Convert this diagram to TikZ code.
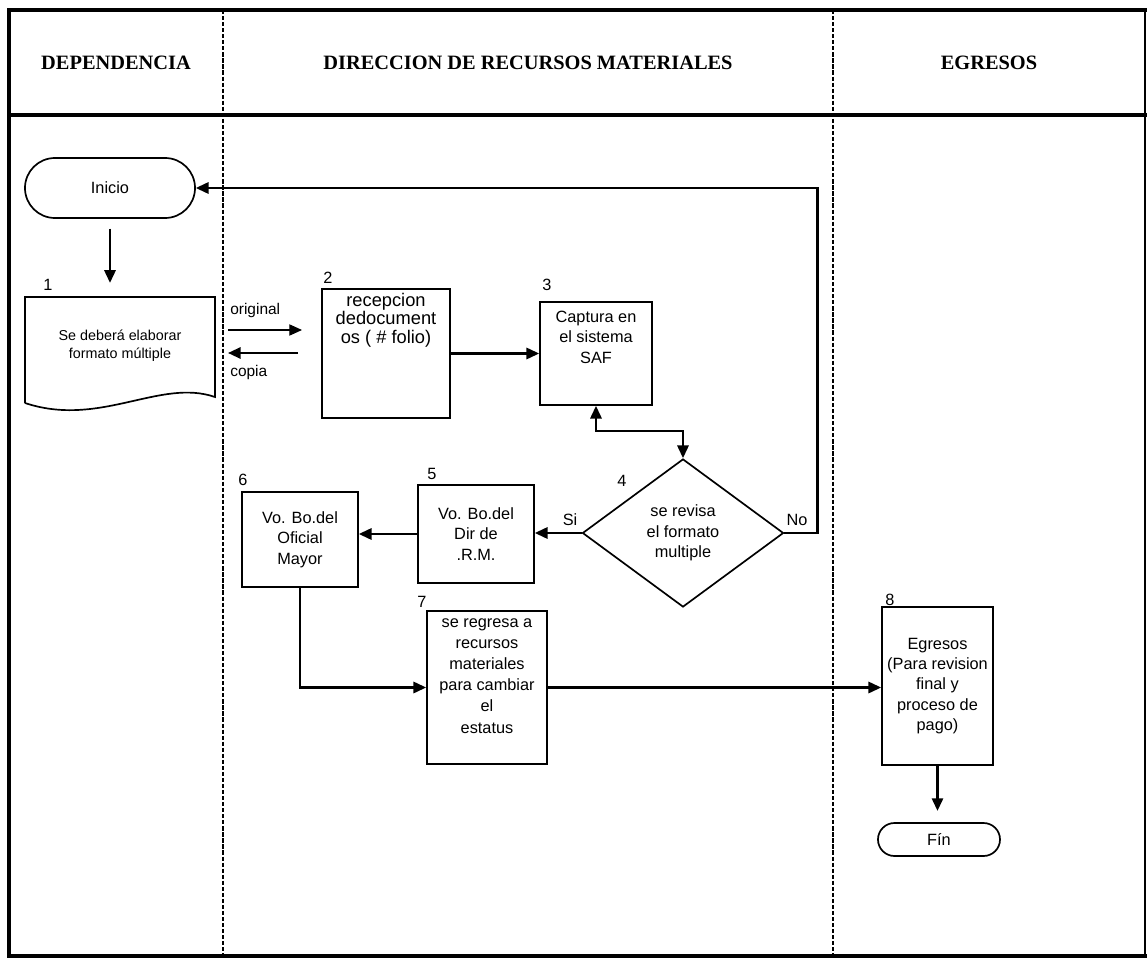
\documentclass[tikz,border=0pt]{standalone}
\usepackage{fontspec}
\setmainfont{Liberation Sans}
\newfontfamily\hdrfont{Liberation Serif}
\usetikzlibrary{arrows.meta}
\usetikzlibrary{positioning, shapes.geometric, shapes.misc}

\begin{document}
\begin{tikzpicture}[x=0.025cm, y=-0.025cm,
	every node/.style={font=\fontsize{11.6}{14.5}\selectfont, align=center, inner sep=0pt},
	box/.style={rectangle, draw, line width=1.2pt},
	term/.style={rounded rectangle, draw, line width=1.2pt},
	dec/.style={diamond, draw, line width=1.2pt, minimum width=5.025cm, minimum height=3.7cm},
	flow/.style={line width=1.6pt, -{Triangle[length=9pt,width=8pt]}},
	thinflow/.style={line width=0.8pt, -{Triangle[length=9pt,width=8pt]}},
	lane/.style={line width=1.1pt, dash pattern=on 3pt off 1.3pt},
	frame/.style={line width=3.5pt, line cap=rect},
	hdr/.style={font=\hdrfont\bfseries\fontsize{14.5}{17}\selectfont}]
			\useasboundingbox (0,0) rectangle (1147,959);
			
			% marco y carriles
			\draw[frame] (9,10) -- (1145,10);
			\draw[frame] (9,10) -- (9,956) -- (1145,956);
			\draw[line width=1pt] (1145,10) -- (1145,956);
			\draw[frame] (9,115) -- (1145,115);
			\draw[lane] (223,10) -- (223,956);
			\draw[lane] (833,10) -- (833,956);
			
			\node[hdr] (h1) at (116,63) {DEPENDENCIA};
			\node[hdr] (h2) at (528,63) {DIRECCION DE RECURSOS MATERIALES};
			\node[hdr] (h3) at (989,63) {EGRESOS};
			
			% pasos
			\node[term, minimum width=4.25cm, minimum height=1.5cm] (ini) at (110,188) {Inicio};
			\node[minimum width=4.75cm, minimum height=2.65cm, font=\fontsize{10.2}{12.8}\selectfont] (s1) at (120,346) {Se deberá elaborar\\formato múltiple};
			\draw[line width=1.2pt] (25,403) -- (25,297) -- (215,297) -- (215,397) .. controls (160,378) and (100,428) .. (25,403);
			
			\node[box, minimum width=3.2cm, minimum height=3.225cm] (s2) at (386,353.5) {};
			\node[font=\fontsize{13}{13}\selectfont] (t2) at (386,320) {recepcion\\dedocument\\os ( \# folio)};
			\node[box, minimum width=2.8cm, minimum height=2.575cm] (s3) at (596,353.5) {};
			\node (t3) at (596,337) {Captura en\\el sistema\\SAF};
			\node[dec] (d4) at (683,533) {se revisa\\el formato\\multiple};
			\node[box, minimum width=2.9cm, minimum height=2.45cm] (s5) at (476,534) {Vo. Bo.del\\Dir de\\.R.M.};
			\node[box, minimum width=2.9cm, minimum height=2.375cm] (s6) at (300,539.5) {Vo. Bo.del\\Oficial\\Mayor};
			\node[box, minimum width=3cm, minimum height=3.825cm] (s7) at (487,687.5) {};
			\node[font=\fontsize{11.6}{15}\selectfont] (t7) at (487,676) {se regresa a\\recursos\\materiales\\para cambiar\\el\\estatus};
			\node[box, minimum width=2.775cm, minimum height=3.95cm] (s8) at (937.5,686) {Egresos\\(Para revision\\final y\\proceso de\\pago)};
			\node[term, minimum width=3.05cm, minimum height=0.825cm] (fin) at (939,839.5) {Fín};
			
			% numeros
			\node (n1) at (48,285) {1};
			\node (n2) at (328,278) {2};
			\node (n3) at (547,285) {3};
			\node (n4) at (622,481) {4};
			\node (n5) at (432,474) {5};
			\node (n6) at (243,480) {6};
			\node (n7) at (422,602) {7};
			\node (n8) at (890,600) {8};
			
			\node[anchor=west, font=\fontsize{11}{13}\selectfont] (lo) at (230,310) {original};
			\node[anchor=west, font=\fontsize{11}{13}\selectfont] (lc) at (230,372) {copia};
			\node (si) at (570,520) {Si};
			\node (no) at (797,520) {No};
			
			\coordinate (o1) at (228,330);
			\coordinate (o2) at (302,330);
			\coordinate (c1) at (298,353);
			\coordinate (c2) at (228,353);
			
			\draw[flow, shorten <=7pt, shorten >=7pt] (ini.south) -- (ini.south |- s1.north);
			\draw[thinflow] (o1) -- (o2);
			\draw[flow] (c1) -- (c2);
			\path (s2.east) edge[flow] (s2.east -| s3.west)
			(d4.west) edge[flow] (d4.west -| s5.east)
			(s5.west) edge[flow] (s5.west -| s6.east)
			(s7.east) edge[flow] (s7.east -| s8.west);
			\draw[flow, {Triangle[length=9pt,width=8pt]}-{Triangle[length=9pt,width=8pt]}] (s3.south) -- ++(0,25) -| (d4.north);
			\draw[flow] (d4.east) -- ++(33,0) |- (ini.east);
			\draw[flow] (s6.south) |- (s7.west);
			\draw[flow, shorten >=8pt] (s8.south) -- (s8.south |- fin.north);
		\end{tikzpicture}
\end{document}
